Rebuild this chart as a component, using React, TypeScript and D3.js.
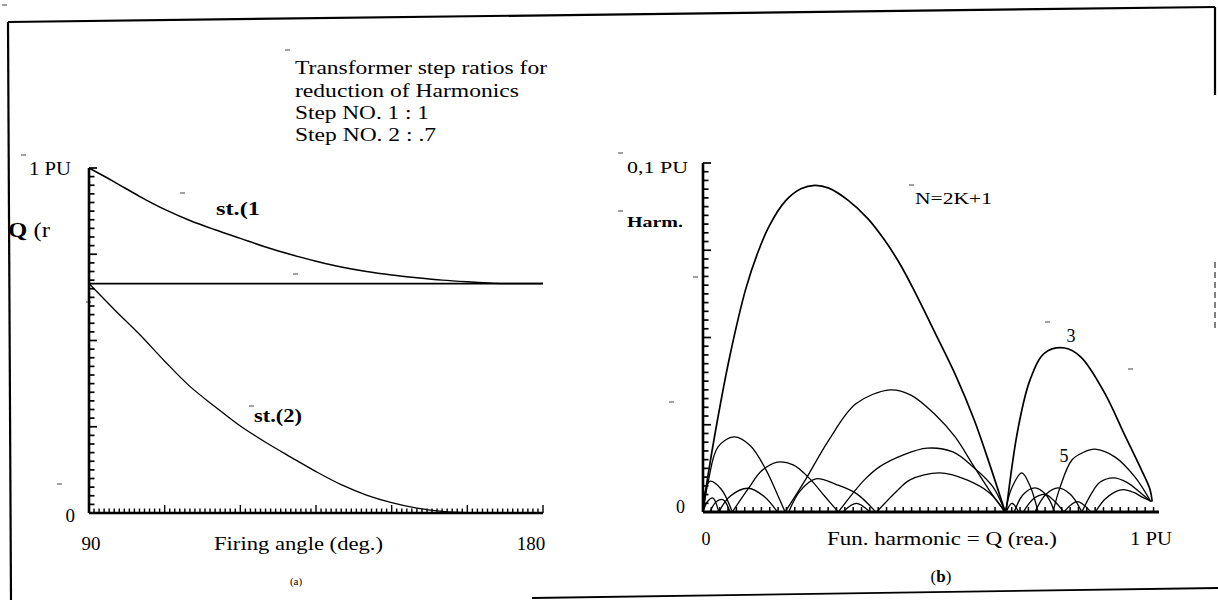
import React from 'react';
import * as d3 from 'd3';

const W = 1218;
const H = 600;

// ---------- Panel (a): Q (reactive) vs firing angle ----------
const firingAngles = [90, 95, 100, 105, 110, 115, 120, 125, 130, 135, 140, 145, 150, 155, 160, 165, 170, 175, 180];
const step1Q = [1.0, 0.96, 0.918, 0.88, 0.848, 0.821, 0.796, 0.771, 0.749, 0.73, 0.713, 0.7, 0.69, 0.682, 0.675, 0.67, 0.666, 0.665, 0.665];
const step2Q = [0.665, 0.59, 0.518, 0.44, 0.367, 0.308, 0.252, 0.205, 0.162, 0.12, 0.082, 0.052, 0.03, 0.014, 0.005, 0.001, 0, 0, 0];
const stepThresholdQ = [0.665, 0.665];
const thresholdAngles = [90, 180];
const aXTickLabels = ['90', '180'];
const aYTickLabels = ['0', '1 PU'];

// ---------- Panel (b): harmonic magnitude vs fundamental Q ----------
type P = [number, number];
const harm3Lobe1: P[] = [[0, 0], [0.007, 0.007], [0.033, 0.027], [0.06, 0.045], [0.095, 0.064], [0.122, 0.0745], [0.147, 0.082], [0.182, 0.089], [0.217, 0.0926], [0.248, 0.0936], [0.279, 0.0928], [0.322, 0.0893], [0.366, 0.084], [0.401, 0.0782], [0.437, 0.071], [0.47, 0.063], [0.514, 0.0515], [0.559, 0.0395], [0.601, 0.0265], [0.636, 0.0135], [0.67, 0]];
const harm3Lobe2: P[] = [[0.672, 0], [0.698, 0.0235], [0.725, 0.0378], [0.758, 0.0456], [0.802, 0.047], [0.838, 0.0444], [0.891, 0.034], [0.933, 0.0226], [0.969, 0.0129], [0.991, 0.0065], [0.996, 0.003]];
const harm5Lobe2: P[] = [[0.776, 0], [0.792, 0.0072], [0.818, 0.0149], [0.845, 0.0172], [0.869, 0.018], [0.913, 0.0158], [0.958, 0.01], [0.991, 0.0034]];
const lobeB: P[] = [[0.182, 0], [0.226, 0.009], [0.279, 0.0206], [0.339, 0.031], [0.415, 0.035], [0.461, 0.0335], [0.514, 0.028], [0.559, 0.0215], [0.601, 0.013], [0.645, 0.0043], [0.67, 0]];
const lobeC: P[] = [[0, 0], [0.012, 0.009], [0.033, 0.0186], [0.069, 0.0215], [0.105, 0.019], [0.14, 0.012], [0.165, 0.005], [0.182, 0]];
const lobeD: P[] = [[0.065, 0], [0.1, 0.0066], [0.13, 0.0118], [0.165, 0.0143], [0.2, 0.0135], [0.237, 0.0095], [0.27, 0.0045], [0.3, 0]];
const lobeE: P[] = [[0.19, 0], [0.215, 0.006], [0.25, 0.0095], [0.297, 0.0078], [0.341, 0.0052], [0.383, 0]];
const lobeF: P[] = [[0.385, 0], [0.43, 0.006], [0.459, 0.0092], [0.525, 0.0112], [0.585, 0.0092], [0.636, 0.0054], [0.67, 0]];
const lobeG: P[] = [[0.3, 0], [0.33, 0.005], [0.36, 0.0095], [0.392, 0.013], [0.443, 0.0163], [0.497, 0.0183], [0.554, 0.0172], [0.599, 0.0129], [0.643, 0.0072], [0.67, 0]];
const lobeH: P[] = [[0, 0], [0.005, 0.006], [0.015, 0.0088], [0.04, 0.0066], [0.065, 0]];
const lobeI: P[] = [[0.035, 0], [0.06, 0.0045], [0.1, 0.0068], [0.135, 0.0045], [0.165, 0]];
const lobeJ: P[] = [[0, 0], [0.01, 0.003], [0.022, 0.004], [0.035, 0]];
const lobeK: P[] = [[0.015, 0], [0.03, 0.003], [0.045, 0.0035], [0.06, 0]];
const lobeL: P[] = [[0.31, 0], [0.34, 0.0025], [0.37, 0]];
const lobeM: P[] = [[0.84, 0], [0.86, 0.005], [0.88, 0.0085], [0.91, 0.0098], [0.94, 0.0085], [0.97, 0.0055], [0.993, 0.003]];
const lobeN: P[] = [[0.87, 0], [0.89, 0.0035], [0.91, 0.0055], [0.932, 0.0064], [0.955, 0.0056], [0.975, 0.0042], [0.995, 0.003]];
const lobeO: P[] = [[0.67, 0], [0.685, 0.007], [0.707, 0.0112], [0.725, 0.0075], [0.743, 0]];
const lobeP: P[] = [[0.69, 0], [0.71, 0.005], [0.736, 0.0069], [0.76, 0.005], [0.78, 0]];
const lobeQ: P[] = [[0.736, 0], [0.76, 0.005], [0.787, 0.0069], [0.815, 0.005], [0.84, 0]];
const lobeR: P[] = [[0.71, 0], [0.735, 0.004], [0.76, 0.005], [0.78, 0.003], [0.8, 0]];
const lobeS: P[] = [[0.8, 0], [0.83, 0.003], [0.86, 0]];
const lobeT: P[] = [[0.672, 0], [0.685, 0.0025], [0.7, 0]];
const bXTickLabels = ['0', '1 PU'];
const bYTickLabels = ['0', '0,1 PU'];

const heavyLobes = [harm3Lobe1, harm3Lobe2];
const lightLobes = [harm5Lobe2, lobeB, lobeC, lobeD, lobeE, lobeF, lobeG, lobeH, lobeI, lobeJ, lobeK, lobeL, lobeM, lobeN, lobeO, lobeP, lobeQ, lobeR, lobeS, lobeT];

// scan artefact dashes
const dashes: P[] = [[285, 50], [180, 193], [293, 274], [21, 155], [86, 302], [249, 406], [57, 484], [618, 153], [618, 211], [909, 185], [693, 277], [669, 402], [1045, 322], [1128, 369], [2, 5]];

const SERIF = "'Liberation Serif', 'DejaVu Serif', serif";

export default function App() {
  // scales panel (a)
  const xA = d3.scaleLinear().domain([90, 180]).range([89, 543]);
  const yA = d3.scaleLinear().domain([0, 1]).range([513, 168]);
  // scales panel (b)
  const xB = d3.scaleLinear().domain([0, 1]).range([703, 1154]);
  const yB = d3.scaleLinear().domain([0, 0.1]).range([512, 163]);

  const lineA = d3.line<number>().x((_, i) => xA(firingAngles[i])).y(d => yA(d)).curve(d3.curveCatmullRom.alpha(0.5));
  const thrLine = d3.line<number>().x((_, i) => xA(thresholdAngles[i])).y(d => yA(d));
  const lineB = d3.line<P>().x(d => xB(d[0])).y(d => Math.min(yB(0), yB(d[1]))).curve(d3.curveCatmullRom.alpha(0.5));

  const isMult = (v: number, s: number) => Math.abs(v / s - Math.round(v / s)) < 1e-6;

  const aYTicks = d3.range(0, 1.0001, 0.025);
  const aXTicks = d3.range(90, 180.5, 1);
  const bYTicks = d3.range(0, 0.10001, 0.0025);
  const bXTicks = d3.range(0, 1.0001, 0.0185);

  return (
    <svg width={W} height={H} style={{ position: 'absolute', left: 0, top: 0, background: '#fff' }}>
      <rect x={0} y={0} width={W} height={H} fill="#fff" />
      {/* frame */}
      <g stroke="#000" fill="none" strokeWidth={2.2}>
        <line x1={8} y1={22} x2={1215} y2={7} />
        <line x1={8} y1={22} x2={11} y2={600} />
        <line x1={1215} y1={7} x2={1215} y2={95} />
        <line x1={1215} y1={262} x2={1215} y2={330} strokeWidth={1} strokeDasharray="6 4" />
        <line x1={532} y1={598} x2={1218} y2={588} strokeWidth={1.8} />
      </g>
      <g stroke="#444" strokeWidth={1}>
        {dashes.map((d, i) => <line key={i} x1={d[0]} y1={d[1]} x2={d[0] + 5} y2={d[1]} />)}
      </g>

      {/* ---------- panel (a) ---------- */}
      <g stroke="#000" fill="none">
        <line x1={xA(90)} y1={yA(0)} x2={xA(90)} y2={yA(1)} strokeWidth={2.6} />
        <line x1={xA(90)} y1={yA(0)} x2={xA(180)} y2={yA(0)} strokeWidth={2.6} />
        {aYTicks.map((v, i) => (
          <line key={'ay' + i} x1={xA(90)} x2={xA(90) + (isMult(v, 0.25) ? 8 : 5.5)} y1={yA(v)} y2={yA(v)} strokeWidth={1.7} />
        ))}
        {aXTicks.map((v, i) => (
          <line key={'ax' + i} x1={xA(v)} x2={xA(v)} y1={yA(0)} y2={yA(0) - (isMult(v, 15) ? 8 : 4.5)} strokeWidth={1.4} />
        ))}
        <path d={thrLine(stepThresholdQ) || ''} strokeWidth={1.8} />
        <path d={lineA(step1Q) || ''} strokeWidth={1.5} />
        <path d={lineA(step2Q) || ''} strokeWidth={1.3} />
      </g>
      <g fontFamily={SERIF} fill="#000">
        <text x={295} y={74} fontSize={19} textLength={252} lengthAdjust="spacingAndGlyphs">Transformer step ratios for</text>
        <text x={295} y={97} fontSize={19} textLength={224} lengthAdjust="spacingAndGlyphs">reduction of Harmonics</text>
        <text x={295} y={119} fontSize={19} textLength={134} lengthAdjust="spacingAndGlyphs">Step NO. 1 : 1</text>
        <text x={295} y={141} fontSize={18} textLength={141} lengthAdjust="spacingAndGlyphs">Step NO. 2 : .7</text>
        <text x={xA(90) - 18} y={yA(1) + 7} fontSize={18} textAnchor="end" textLength={42} lengthAdjust="spacingAndGlyphs">{aYTickLabels[1]}</text>
        <text x={xA(90) - 14} y={yA(0) + 9} fontSize={19} textAnchor="end">{aYTickLabels[0]}</text>
        <text x={8} y={237} fontSize={21} textLength={42} lengthAdjust="spacingAndGlyphs"><tspan fontWeight="bold">Q</tspan> (r</text>
        <text x={216} y={215} fontSize={18} fontWeight="bold" textLength={44} lengthAdjust="spacingAndGlyphs">st.(1</text>
        <text x={254} y={422} fontSize={18} fontWeight="bold" textLength={48} lengthAdjust="spacingAndGlyphs">st.(2)</text>
        <text x={xA(90) + 2} y={550} fontSize={19} textAnchor="middle">{aXTickLabels[0]}</text>
        <text x={xA(180) - 12} y={550} fontSize={19} textAnchor="middle">{aXTickLabels[1]}</text>
        <text x={214} y={550} fontSize={19} textLength={169} lengthAdjust="spacingAndGlyphs">Firing angle (deg.)</text>
        <text x={296} y={585} fontSize={11} textAnchor="middle">(a)</text>
      </g>

      {/* ---------- panel (b) ---------- */}
      <g stroke="#000" fill="none">
        <line x1={xB(0)} y1={yB(0)} x2={xB(0)} y2={yB(0.1)} strokeWidth={2.6} />
        <line x1={xB(0)} y1={yB(0)} x2={1159} y2={yB(0)} strokeWidth={2.8} />
        {bYTicks.map((v, i) => (
          <line key={'by' + i} x1={xB(0)} x2={xB(0) + (isMult(v, 0.025) ? 8 : 5.5)} y1={yB(v)} y2={yB(v)} strokeWidth={1.7} />
        ))}
        {bXTicks.map((v, i) => (
          <line key={'bx' + i} x1={xB(v)} x2={xB(v)} y1={yB(0)} y2={yB(0) - 5} strokeWidth={1.5} />
        ))}
        {lightLobes.map((l, i) => <path key={'l' + i} d={lineB(l) || ''} strokeWidth={1.3} />)}
        {heavyLobes.map((l, i) => <path key={'h' + i} d={lineB(l) || ''} strokeWidth={1.7} />)}
      </g>
      <g fontFamily={SERIF} fill="#000">
        <text x={xB(0) - 15} y={yB(0.1) + 10} fontSize={17} textAnchor="end" textLength={61} lengthAdjust="spacingAndGlyphs">{bYTickLabels[1]}</text>
        <text x={627} y={227} fontSize={15} fontWeight="bold" textLength={56} lengthAdjust="spacingAndGlyphs">Harm.</text>
        <text x={xB(0) - 18} y={yB(0) + 1} fontSize={18} textAnchor="end">{bYTickLabels[0]}</text>
        <text x={915} y={204} fontSize={17} textLength={77} lengthAdjust="spacingAndGlyphs">N=2K+1</text>
        <text x={1071} y={342} fontSize={18} textAnchor="middle">3</text>
        <text x={1064} y={462} fontSize={18} textAnchor="middle">5</text>
        <text x={xB(0) + 3} y={545} fontSize={18} textAnchor="middle">{bXTickLabels[0]}</text>
        <text x={xB(1) - 3} y={545} fontSize={18} textAnchor="middle" textLength={42} lengthAdjust="spacingAndGlyphs">{bXTickLabels[1]}</text>
        <text x={827} y={545} fontSize={18} textLength={230} lengthAdjust="spacingAndGlyphs">Fun. harmonic = Q (rea.)</text>
        <text x={941} y={582} fontSize={17} textAnchor="middle">(<tspan fontWeight="bold">b</tspan>)</text>
      </g>
    </svg>
  );
}
